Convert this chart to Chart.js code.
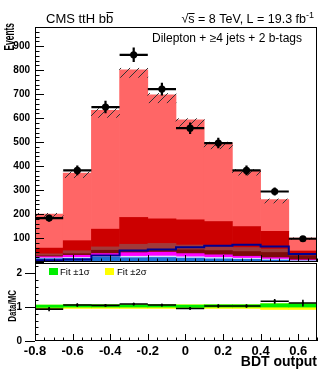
<!DOCTYPE html>
<html>
<head>
<meta charset="utf-8">
<script src="https://cdn.jsdelivr.net/npm/chart.js@4.4.0/dist/chart.umd.min.js"></script>
<style>
  html, body { margin: 0; padding: 0; background: #fff; }
  #wrap { position: relative; width: 332px; height: 375px; }
  #wrap canvas { position: absolute; left: 0; top: 0; }
</style>
</head>
<body>
<div id="wrap">
  <canvas id="main" width="332" height="375"></canvas>
  <canvas id="ratio" width="332" height="375"></canvas>
</div>
<script>
// bins of the BDT output
const binEdges = [-0.8, -0.65, -0.5, -0.35, -0.2, -0.05, 0.1, 0.25, 0.4, 0.55, 0.7];
const xTicks = [-0.8, -0.6, -0.4, -0.2, 0, 0.2, 0.4, 0.6];
const yTicks = [100, 200, 300, 400, 500, 600, 700, 800, 900];
const ratioTicks = [0, 1, 2];

// stacked backgrounds, bottom to top (events per bin)
const ewk     = [14, 15, 20, 18, 19, 16, 13, 11, 8, 4];
const ttV     = [3, 4, 5, 6, 6, 6, 6, 5, 4, 2];
const singleT = [5, 9, 10, 15, 16, 13, 11, 8, 6, 3];
const ttbb    = [4, 7, 14, 10, 12, 16, 18, 20, 22, 18];
const ttcc    = [8, 12, 14, 25, 24, 20, 16, 16, 14, 6];
const ttb     = [24, 42, 74, 112, 103, 105, 105, 88, 74, 13];
const ttlf    = [142, 282, 495, 615, 517, 417, 327, 234, 132, 54];

// ttH signal line, not stacked
const ttH = [7, 10, 27, 48, 52, 62, 68, 72, 65, 33];

// uncertainty band on total background
const uncLo = [190, 352, 603, 770, 664, 566, 472, 362, 246, 94];
const uncHi = [203, 376, 640, 808, 703, 598, 500, 386, 263, 101];

// data
const dataEvents = [183, 382, 646, 864, 721, 558, 496, 382, 294, 97];
const dataErr    = [14, 20, 26, 30, 27, 24, 22, 20, 17, 10];

// ratio panel
const ratio    = [0.94, 1.06, 1.05, 1.09, 1.06, 0.96, 1.03, 1.03, 1.17, 1.12];
const ratioErr = [0.06, 0.05, 0.04, 0.04, 0.04, 0.04, 0.05, 0.05, 0.07, 0.10];
const fit2Lo = [0.95, 0.96, 0.96, 0.96, 0.96, 0.96, 0.96, 0.96, 0.93, 0.93];
const fit2Hi = [1.06, 1.07, 1.07, 1.07, 1.07, 1.07, 1.07, 1.07, 1.10, 1.10];
const fit1Lo = [0.99, 1.00, 1.00, 1.00, 1.00, 0.99, 1.00, 1.00, 1.00, 1.00];
const fit1Hi = [1.06, 1.07, 1.07, 1.07, 1.07, 1.06, 1.07, 1.07, 1.10, 1.10];

const FONT = '"Liberation Sans", Arial, Helvetica, sans-serif';
const centers = binEdges.slice(0, -1).map((e, i) => (e + binEdges[i + 1]) / 2);
const xy = vals => vals.map((v, i) => ({x: centers[i], y: v}));
const band = (lo, hi) => lo.map((v, i) => ({x: centers[i], y: [v, hi[i]]}));

const mainCanvas = document.getElementById('main');
const hatch = (function() {
    const c = document.createElement('canvas');
    c.width = 9; c.height = 9;
    const g = c.getContext('2d');
    g.strokeStyle = '#333';
    g.lineWidth = 1;
    g.beginPath(); g.moveTo(0, 9); g.lineTo(9, 0); g.stroke();
    return mainCanvas.getContext('2d').createPattern(c, 'repeat');
})();

function mc(label, data, color) {
    return {
        type: 'bar', label: label, data: xy(data), backgroundColor: color,
        borderWidth: 0, stack: 'mc', barPercentage: 1, categoryPercentage: 1,
    };
}

// frame + ROOT style ticks drawn inside the frame
function frame(ctx, a) {
    ctx.strokeStyle = '#000';
    ctx.lineWidth = 1;
    ctx.strokeRect(Math.round(a.left) + 0.5, Math.round(a.top) + 0.5,
        Math.round(a.right - a.left) - 1, Math.round(a.bottom - a.top) - 1);
}
function xTickMarks(ctx, a, x) {
    ctx.beginPath();
    for (let v = -0.8; v <= 0.7001; v += 0.05) {
        const major = Math.abs(Math.round(v * 10) / 10 - v) < 1e-6 && Math.round(v * 10) % 2 === 0;
        const px = Math.round(x.getPixelForValue(v)) + 0.5;
        ctx.moveTo(px, a.bottom);
        ctx.lineTo(px, a.bottom - (major ? 7 : 3.5));
    }
    ctx.stroke();
}
function sideTitle(ctx, text, x, y, size, squeeze) {
    ctx.save();
    ctx.textBaseline = 'alphabetic';
    ctx.textAlign = 'right';
    ctx.translate(x, y);
    ctx.rotate(-Math.PI / 2);
    ctx.scale(squeeze, 1);
    ctx.font = 'bold ' + size + 'px ' + FONT;
    ctx.fillText(text, 0, 0);
    ctx.restore();
}

const mainDeco = {
    id: 'mainDeco',
    afterDatasetsDraw(chart) {
        const {ctx, scales: {x, y}} = chart;
        ctx.save();
        ctx.strokeStyle = '#000';
        ctx.lineWidth = 2.2;
        ctx.beginPath();
        dataEvents.forEach((v, i) => {
            const py = y.getPixelForValue(v);
            const cx = x.getPixelForValue(centers[i]);
            ctx.moveTo(x.getPixelForValue(binEdges[i]), py);
            ctx.lineTo(x.getPixelForValue(binEdges[i + 1]), py);
            ctx.moveTo(cx, y.getPixelForValue(v - dataErr[i]));
            ctx.lineTo(cx, y.getPixelForValue(v + dataErr[i]));
        });
        ctx.stroke();
        ctx.restore();
    },
    afterDraw(chart) {
        const {ctx, chartArea: a, scales: {x, y}} = chart;
        ctx.save();
        frame(ctx, a);
        xTickMarks(ctx, a, x);
        ctx.beginPath();
        for (let v = 0; v <= 980; v += 20) {
            const py = Math.round(y.getPixelForValue(v)) + 0.5;
            ctx.moveTo(a.left, py);
            ctx.lineTo(a.left + (v % 100 === 0 ? 9 : 4.5), py);
        }
        ctx.stroke();

        ctx.fillStyle = '#000';
        ctx.textAlign = 'left';
        ctx.textBaseline = 'alphabetic';
        ctx.font = '13px ' + FONT;
        const t1 = 'CMS ttH bb';
        ctx.fillText(t1, 46, 23);
        const w1 = ctx.measureText(t1).width, wb = ctx.measureText('b').width;
        ctx.fillRect(46 + w1 - wb + 0.5, 12, wb - 0.5, 1);

        ctx.font = '12.5px ' + FONT;
        const lumi = 's = 8 TeV, L = 19.3 fb';
        const wr = ctx.measureText('\u221A').width, wl = ctx.measureText(lumi).width;
        const ws = ctx.measureText('s').width;
        ctx.font = '9px ' + FONT;
        const wsup = ctx.measureText('-1').width;
        const x0 = 314 - wr - wl - wsup;
        ctx.font = '12.5px ' + FONT;
        ctx.fillText('\u221A', x0, 23);
        ctx.fillText(lumi, x0 + wr, 23);
        ctx.fillRect(x0 + wr, 13, ws, 1);
        ctx.font = '9px ' + FONT;
        ctx.fillText('-1', x0 + wr + wl, 18);

        ctx.font = '12px ' + FONT;
        ctx.textAlign = 'right';
        ctx.fillText('Dilepton + \u22654 jets + 2 b-tags', 302, 42);
        ctx.restore();

        sideTitle(ctx, 'Events', 13.5, 23, 15, 0.56);
    }
};

new Chart(mainCanvas, {
    type: 'bar',
    data: {
        datasets: [
            {
                type: 'line', label: 'Data', data: xy(dataEvents), stack: 'data',
                showLine: false, pointRadius: 3.6, pointBackgroundColor: '#000',
                pointBorderColor: '#000', pointBorderWidth: 0,
            },
            {
                type: 'line', label: 'ttH', stack: 'sig',
                data: binEdges.map((e, i) => ({x: e, y: ttH[Math.min(i, ttH.length - 1)]})),
                stepped: 'before', borderColor: '#000090', borderWidth: 2, pointRadius: 0, fill: false,
            },
            {
                type: 'bar', label: 'Uncertainty', data: band(uncLo, uncHi), stack: 'unc',
                grouped: false, backgroundColor: hatch, borderWidth: 0,
                barPercentage: 1, categoryPercentage: 1,
            },
            mc('EWK', ewk, '#1c6fd2'),
            mc('ttV', ttV, '#d2dcff'),
            mc('Single t', singleT, '#ff00ff'),
            mc('tt+bb', ttbb, '#7c0a0a'),
            mc('tt+cc', ttcc, '#a03a3a'),
            mc('tt+b', ttb, '#cc0000'),
            mc('tt+lf', ttlf, '#ff6666'),
        ]
    },
    options: {
        responsive: false,
        animation: false,
        devicePixelRatio: 1,
        events: [],
        layout: { padding: { left: 0, right: 15, top: 27, bottom: 113 } },
        plugins: { legend: { display: false }, tooltip: { enabled: false } },
        scales: {
            x: { type: 'linear', min: -0.8, max: 0.7, stacked: true, offset: false, display: false },
            y: {
                min: 0, max: 980, stacked: true,
                afterFit: s => { s.width = 35; },
                afterBuildTicks: s => { s.ticks = yTicks.map(v => ({value: v})); },
                grid: { display: false, drawTicks: false },
                border: { display: false },
                ticks: { color: '#000', padding: 5, font: { family: FONT, size: 10, weight: 'bold' } },
            }
        }
    },
    plugins: [mainDeco]
});

const ratioDeco = {
    id: 'ratioDeco',
    afterDatasetsDraw(chart) {
        const {ctx, scales: {x, y}} = chart;
        ctx.save();
        ctx.strokeStyle = '#000';
        ctx.lineWidth = 1.6;
        ctx.beginPath();
        ratio.forEach((v, i) => {
            const py = y.getPixelForValue(v);
            const cx = x.getPixelForValue(centers[i]);
            ctx.moveTo(x.getPixelForValue(binEdges[i]), py);
            ctx.lineTo(x.getPixelForValue(binEdges[i + 1]), py);
            ctx.moveTo(cx, y.getPixelForValue(v - ratioErr[i]));
            ctx.lineTo(cx, y.getPixelForValue(v + ratioErr[i]));
        });
        ctx.stroke();
        ctx.restore();
    },
    afterDraw(chart) {
        const {ctx, chartArea: a, scales: {x, y}} = chart;
        ctx.save();
        frame(ctx, a);
        xTickMarks(ctx, a, x);
        ctx.beginPath();
        for (let k = 0; k <= 11; k++) {
            const v = k * 0.2;
            const py = Math.round(y.getPixelForValue(v)) + 0.5;
            if (k % 5 === 0) {
                ctx.moveTo(a.left - 10, py);
                ctx.lineTo(a.left, py);
            } else {
                ctx.moveTo(a.left, py);
                ctx.lineTo(a.left + 3.5, py);
            }
        }
        ctx.stroke();

        // legend
        ctx.fillStyle = '#00ee00';
        ctx.fillRect(49, 268, 9, 7);
        ctx.fillStyle = '#ffff00';
        ctx.fillRect(105, 268, 9, 7);
        ctx.fillStyle = '#000';
        ctx.font = '9.5px ' + FONT;
        ctx.textBaseline = 'middle';
        ctx.fillText('Fit \u00B11\u03C3', 60, 272);
        ctx.fillText('Fit \u00B12\u03C3', 117, 272);
        ctx.restore();

        sideTitle(ctx, 'Data/MC', 15.5, 290, 11, 0.72);
    }
};

new Chart(document.getElementById('ratio'), {
    type: 'bar',
    data: {
        datasets: [
            {
                type: 'line', label: 'Data/MC', data: xy(ratio),
                showLine: false, pointRadius: 1.2, pointBackgroundColor: '#000', pointBorderWidth: 0,
            },
            {
                type: 'bar', label: 'Fit \u00B11\u03C3', data: band(fit1Lo, fit1Hi), grouped: false,
                backgroundColor: '#00ee00', borderWidth: 0, barPercentage: 1, categoryPercentage: 1,
            },
            {
                type: 'bar', label: 'Fit \u00B12\u03C3', data: band(fit2Lo, fit2Hi), grouped: false,
                backgroundColor: '#ffff00', borderWidth: 0, barPercentage: 1, categoryPercentage: 1,
            },
        ]
    },
    options: {
        responsive: false,
        animation: false,
        devicePixelRatio: 1,
        events: [],
        layout: { padding: { left: 0, right: 15, top: 263, bottom: 0 } },
        plugins: { legend: { display: false }, tooltip: { enabled: false } },
        scales: {
            x: {
                type: 'linear', min: -0.8, max: 0.7, offset: false,
                afterFit: s => { s.height = 34; },
                afterBuildTicks: s => { s.ticks = xTicks.map(v => ({value: v})); },
                grid: { display: false, drawTicks: false },
                border: { display: false },
                ticks: {
                    color: '#000', padding: 3, maxRotation: 0, autoSkip: false,
                    font: { family: FONT, size: 13, weight: 'bold' },
                    callback: v => String(v),
                },
                title: {
                    display: true, text: 'BDT output', align: 'end', color: '#000',
                    padding: { top: 0, bottom: 4 },
                    font: { family: FONT, size: 14, weight: 'bold' },
                },
            },
            y: {
                min: 0, max: 2.3,
                afterFit: s => { s.width = 35; },
                afterBuildTicks: s => { s.ticks = ratioTicks.map(v => ({value: v})); },
                grid: { display: false, drawTicks: false },
                border: { display: false },
                ticks: { color: '#000', padding: 13, font: { family: FONT, size: 10, weight: 'bold' } },
            }
        }
    },
    plugins: [ratioDeco]
});
</script>
</body>
</html>
